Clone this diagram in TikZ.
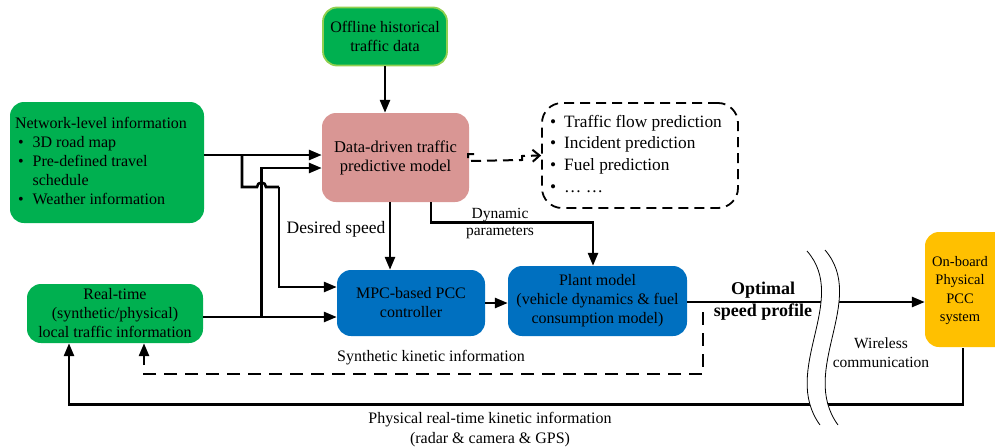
\documentclass[tikz,border=0pt]{standalone}
\usepackage{fontspec}
\setmainfont{Liberation Serif}
\usetikzlibrary{arrows.meta}
\definecolor{cgreen}{RGB}{0,176,80}
\definecolor{cpink}{RGB}{217,150,148}
\definecolor{cblue}{RGB}{0,112,192}
\definecolor{cyel}{RGB}{255,192,0}
\definecolor{clight}{RGB}{146,208,80}
\begin{document}
\begin{tikzpicture}[x=1pt,y=-1pt,
  txt/.style={font=\fontsize{16}{19}\selectfont, align=center, inner sep=0pt},
  box/.style={txt, rounded corners=14pt},
  ln/.style={line width=2.6pt},
  arr/.style={line width=2.6pt, -{Triangle[length=13pt,width=10pt]}},
  dsh/.style={line width=2.6pt, dash pattern=on 13pt off 8pt},
  dasharr/.style={dsh, -{Triangle[length=13pt,width=10pt]}}]
\useasboundingbox (0,0) rectangle (995,447);

% boxes
\node[box, fill=cgreen, draw=clight, line width=1.8pt, minimum width=124pt, minimum height=58pt] (off) at (385,36.5) {Offline historical\\traffic data};
\node[box, font=\fontsize{16.5}{19}\selectfont, fill=cpink, minimum width=147pt, minimum height=89pt] (dd) at (395.5,157.5) {Data-driven traffic\\predictive model};
\node[box, fill=cgreen, minimum width=194pt, minimum height=121pt] (net) at (107,162.5) {%
\begin{tabular}{@{}l@{\hspace{9pt}}l@{}}\multicolumn{2}{@{}l@{}}{Network-level information}\\
\hspace{3pt}\textbullet & 3D road map\\
\hspace{3pt}\textbullet & Pre-defined travel\\
 & schedule\\
\hspace{3pt}\textbullet & Weather information
\end{tabular}\hspace{12pt}};
\node[txt, font=\fontsize{17.3}{21.7}\selectfont, draw, line width=1.8pt, dash pattern=on 10pt off 6pt, rounded corners=20pt, minimum width=196pt, minimum height=105pt] (pred) at (640,155.5) {%
\begin{tabular}{@{}l@{\hspace{8pt}}l@{}}
\textbullet & Traffic flow prediction\\
\textbullet & Incident prediction\\
\textbullet & Fuel prediction\\
\textbullet & … …
\end{tabular}\hspace{8pt}};
\node[box, fill=cgreen, minimum width=176pt, minimum height=59pt] (rt) at (115,313.5) {Real-time\\(synthetic/physical)\\local traffic information};
\node[box, fill=cblue, minimum width=148pt, minimum height=66pt] (mpc) at (411,303) {MPC-based PCC\\controller};
\node[box, fill=cblue, minimum width=179pt, minimum height=70pt] (plant) at (597.5,301) {Plant model\\(vehicle dynamics \& fuel\\consumption model)};
\fill[cyel, rounded corners=14pt] (925,232) rectangle (1010,347);
\node[txt, font=\fontsize{14.5}{18.5}\selectfont, minimum width=70pt, minimum height=115pt] (ob) at (960,290.5) {On-board\\Physical\\PCC\\system};

% junction coordinates
\coordinate (j1) at (242,155);
\coordinate (h1) at (257,187);
\coordinate (j2) at (279,187);
\coordinate (j3) at (261.5,317);
\coordinate (j4) at (261.5,168);
\coordinate (d0) at (703,312);
\coordinate (p0) at (474,154);
\coordinate (p1) at (468,154);
\coordinate (p2) at (468,161);
\coordinate (p3) at (522,160);
\coordinate (p4) at (522,156);

% connectors
\draw[arr] (off.south) -- (off.south |- dd.north);
\draw[arr] ([yshift=7.5pt]net.east) -- ([yshift=7.5pt]net.east -| dd.west);
\draw[ln] (j1) |- (h1) arc[start angle=180, end angle=360, radius=4.5] -- (j2);
\draw[arr] (j2) |- ([yshift=16pt]mpc.west);
\draw[arr] ([yshift=-3.5pt]rt.east) -- ([yshift=-3.5pt]rt.east -| mpc.west);
\draw[arr] (j3) -- (j4) -- (j4 -| dd.west);
\draw[arr] ([xshift=-5.5pt]dd.south) -- ([xshift=-5.5pt]dd.south |- mpc.north);
\draw[arr] ([xshift=35.5pt]dd.south) -- ++(0,20) -| ([xshift=-4.5pt]plant.north);
\draw[arr] (mpc.east) -- (mpc.east -| plant.west);
\draw[line width=2pt, dash pattern=on 10pt off 6pt, -{Straight Barb[length=7pt,width=12pt]}] (p0) -- (p1) -- (p2) -- (p3) -- (p4) -- (pred.west);
\draw[arr] ([yshift=-1pt]plant.east) -- ([yshift=-1pt]plant.east -| ob.west);
\draw[dasharr] (d0) -- (703,374) -| ([xshift=29pt]rt.south);
\draw[arr] ([xshift=3pt]ob.south) -- ++(0,56) -| ([xshift=-46pt]rt.south);

% break marks
\fill[white] (807,251) .. controls (850,300) and (780,370) .. (820,425) -- (838,425) .. controls (798,370) and (868,300) .. (825,250) -- cycle;
\draw[line width=0.8pt] (807,251) .. controls (850,300) and (780,370) .. (820,425);
\draw[line width=0.8pt] (825,250) .. controls (868,300) and (798,370) .. (838,425);

% labels
\node[txt, font=\fontsize{17.5}{20}\selectfont] (lds) at (336,229) {Desired speed};
\node[txt, font=\fontsize{15.5}{17}\selectfont] (ldp) at (500,223.5) {Dynamic\\parameters};
\node[txt, font=\bfseries\fontsize{18}{22}\selectfont] (lop) at (763,301) {Optimal\\speed profile};
\node[txt] (lsk) at (431,358) {Synthetic kinetic information};
\node[txt, font=\fontsize{15.5}{19}\selectfont] (lwc) at (881,352.5) {Wireless\\communication};
\node[txt, font=\fontsize{16}{20}\selectfont] (lpr) at (490,430) {Physical real-time kinetic information\\(radar \& camera \& GPS)};
\end{tikzpicture}
\end{document}
